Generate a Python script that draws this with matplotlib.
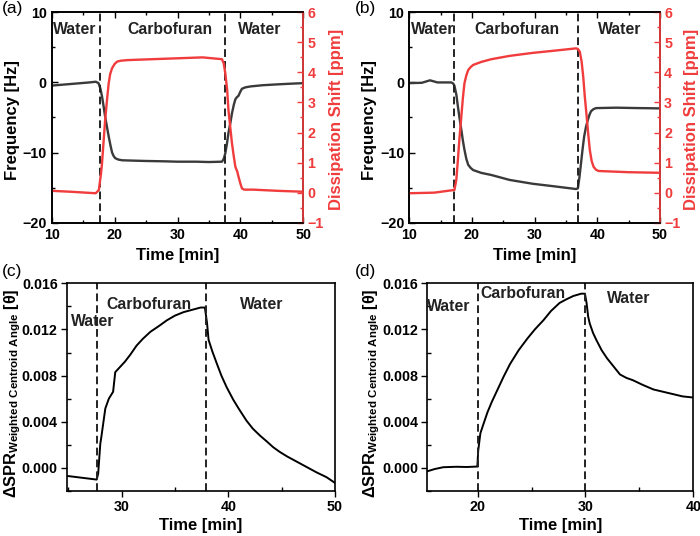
import matplotlib
matplotlib.use("Agg")
import matplotlib.pyplot as plt
from matplotlib.ticker import MultipleLocator

plt.rcParams['font.family'] = ['Liberation Sans', 'DejaVu Sans']
plt.rcParams['mathtext.fontset'] = 'custom'
plt.rcParams['mathtext.rm'] = 'Liberation Sans'
plt.rcParams['mathtext.bf'] = 'Liberation Sans:bold'

GRAY = '#3a3a3a'
RED = '#f03c3c'

# ---------------- data ----------------
a_time_freq = [10, 12, 14, 16, 17.0, 17.45, 17.75, 18.0, 18.25, 18.5, 18.8, 19.06, 19.35, 19.6, 19.85, 20.1,
               20.6, 21.2, 23, 25, 28, 30, 33, 35, 37.07, 37.35, 37.6, 37.85, 38.1, 38.4, 38.66, 38.95,
               39.2, 39.45, 39.7, 40.0, 40.25, 40.8, 41.6, 43.5, 45.8, 48, 50]
a_freq = [-0.45, -0.3, -0.15, 0.0, 0.1, -0.1, -0.9, -2.0, -3.4, -4.9, -6.4, -7.7, -9.0, -10.0, -10.5, -10.8,
          -11.0, -11.1, -11.15, -11.2, -11.25, -11.3, -11.3, -11.35, -11.3, -10.9, -10.1, -8.8, -7.2, -5.8,
          -4.4, -3.2, -2.4, -2.1, -1.9, -1.3, -0.9, -0.7, -0.57, -0.4, -0.28, -0.18, -0.1]
a_time_diss = [10, 13, 17, 17.5, 17.7, 17.85, 18.0, 18.25, 18.5, 18.8, 19.06, 19.3, 19.6, 20.0, 20.4, 21.0,
               22.1, 26, 30, 34, 37.07, 37.35, 37.6, 37.9, 38.1, 38.4, 38.66, 38.95, 39.2, 39.5, 39.7,
               40.0, 40.25, 40.6, 42, 46, 50]
a_diss = [0.06, 0.03, -0.02, 0.09, 0.42, 0.65, 0.98, 1.7, 2.42, 3.1, 3.64, 3.95, 4.14, 4.28, 4.36, 4.39,
          4.41, 4.44, 4.47, 4.5, 4.44, 4.3, 3.97, 3.41, 2.75, 2.15, 1.64, 1.2, 0.86, 0.70, 0.53, 0.3, 0.14,
          0.1, 0.1, 0.06, 0.03]

b_time_freq = [10, 12, 13.3, 14.5, 16.7, 17.0, 17.2, 17.5, 17.75, 18.0, 18.3, 18.55, 18.8, 19.1, 19.4,
               19.8, 20.2, 21.5, 23.1, 26, 29.7, 33, 36.6, 36.9, 37.15, 37.4, 37.65, 37.9, 38.2, 38.5,
               38.75, 39.0, 39.4, 39.8, 43, 46, 50]
b_freq = [-0.1, -0.05, 0.3, 0.0, 0.0, -0.15, -0.47, -1.7, -3.4, -5.0, -6.75, -8.3, -9.6, -10.9, -11.75,
          -12.2, -12.5, -12.9, -13.2, -13.9, -14.45, -14.8, -15.2, -15.1, -13.5, -11.5, -9.5, -7.7, -6.3,
          -5.3, -4.6, -4.1, -3.8, -3.66, -3.6, -3.65, -3.7]
b_time_diss = [10, 14, 17.2, 17.5, 17.75, 18.0, 18.3, 18.55, 18.8, 19.1, 19.4, 19.8, 20.2, 21.5, 23.1, 26,
               29.7, 33, 36.6, 36.9, 37.2, 37.5, 37.75, 38.0, 38.3, 38.55, 38.8, 39.1, 39.4, 39.8, 40.2,
               45, 50]
b_diss = [-0.02, 0.0, 0.09, 0.42, 1.08, 1.8, 2.53, 3.15, 3.64, 3.9, 4.08, 4.18, 4.25, 4.35, 4.44, 4.55,
          4.65, 4.72, 4.8, 4.78, 4.69, 4.35, 3.86, 3.2, 2.53, 1.95, 1.42, 1.05, 0.86, 0.76, 0.72, 0.68, 0.66]

c_time = [24.85, 27.66, 27.8, 28.0, 28.1, 28.47, 28.8, 29.2, 29.4, 29.9, 30.3, 30.8, 31.4, 32.0, 32.7,
          33.5, 34.25, 35.0, 35.8, 36.6, 37.4, 37.8, 38.0, 38.15, 38.5, 38.9, 39.35, 39.84, 40.47, 41.0,
          41.7, 42.3, 42.97, 43.6, 44.2, 44.8, 45.5, 46.1, 46.7, 47.5, 48.3, 49.2, 50.0]
c_spr = [-0.00069, -0.00101, -0.0005, 0.0021, 0.0027, 0.00515, 0.0060, 0.0066, 0.0083, 0.0088, 0.0092,
         0.0098, 0.0106, 0.0112, 0.0118, 0.0123, 0.0128, 0.0132, 0.0135, 0.0137, 0.0139, 0.0139, 0.0126,
         0.0111, 0.0101, 0.0091, 0.0080, 0.0070, 0.0059, 0.0051, 0.0041, 0.0034, 0.0028, 0.0023, 0.0018,
         0.0014, 0.0010, 0.0007, 0.0004, 0.0000, -0.0004, -0.0008, -0.0013]

d_time = [15.3, 16.0, 16.8, 18.0, 19.0, 19.97, 20.05, 20.25, 20.5, 20.9, 21.3, 21.8, 22.4, 23.0, 23.8,
          24.6, 25.3, 26.1, 26.8, 27.6, 28.2, 28.87, 29.6, 29.95, 30.1, 30.25, 30.4, 30.7, 31.0, 31.5,
          32.0, 32.6, 33.2, 33.8, 34.4, 35.3, 36.3, 37.2, 38.1, 39.0, 40.0]
d_spr = [-0.0003, -0.0001, 0.00006, 0.0001, 0.00008, 0.00012, 0.0015, 0.0030, 0.0037, 0.0048, 0.0057,
         0.0067, 0.0079, 0.0090, 0.0102, 0.0112, 0.0120, 0.0128, 0.0136, 0.0143, 0.0146, 0.0149, 0.0151,
         0.0151, 0.0143, 0.0131, 0.0125, 0.0117, 0.0111, 0.0102, 0.0095, 0.0088, 0.0081, 0.0078, 0.0076,
         0.0072, 0.0068, 0.0066, 0.0064, 0.0062, 0.0061]

a_switch = [17.7, 37.6]
b_switch = [17.2, 36.9]
c_switch = [27.7, 37.9]
d_switch = [20.0, 30.0]

phase_labels = ['Water', 'Carbofuran', 'Water']
a_label_x = [13.6, 28.75, 43.1]
b_label_x = [13.7, 27.2, 43.6]
c_label_pos = [(27.3, 0.0127), (32.6, 0.0142), (43.1, 0.0142)]
d_label_pos = [(17.3, 0.0140), (24.2, 0.0151), (34.0, 0.0147)]

# ---------------- figure ----------------
W, H = 700, 536
fig = plt.figure(figsize=(7.0, 5.36), dpi=100)

def rect(l, r, t, b):
    return [l / W, 1 - b / H, (r - l) / W, (b - t) / H]

TICK_FS = 10.3
LABEL_FS = 12
PHASE_FS = 11.3
DASH = (0, (4, 2.1))

def qcm_panel(box, tf, fr, td, di, sw, lx, letter, letter_xy, flab_x, dlab_x):
    ax = fig.add_axes(box)
    ax.plot(tf, fr, color=GRAY, lw=1.7)
    ax.set_xlim(10, 50)
    ax.set_ylim(-20, 10)
    ax.xaxis.set_major_locator(MultipleLocator(10))
    ax.xaxis.set_minor_locator(MultipleLocator(5))
    ax.yaxis.set_major_locator(MultipleLocator(10))
    ax.yaxis.set_minor_locator(MultipleLocator(5))
    ax.tick_params(which='both', direction='in', top=True, right=False, width=1.0)
    ax.tick_params(which='major', length=4, labelsize=TICK_FS, pad=3.5)
    ax.tick_params(which='minor', length=2.5)
    for lab in ax.get_xticklabels() + ax.get_yticklabels():
        lab.set_fontweight('bold')
    for s in ax.spines.values():
        s.set_linewidth(1.2)
    for x in sw:
        ax.axvline(x, color='#222222', lw=1.4, ls=DASH)
    for x, t in zip(lx, phase_labels):
        ax.text(x, 7.6, t, ha='center', va='center', fontsize=PHASE_FS, fontweight='bold', color='#222222')
    ax.set_xlabel('Time [min]', fontsize=LABEL_FS, fontweight='bold')
    ax.xaxis.set_label_coords(0.5, -0.122)
    ax.set_ylabel('Frequency [Hz]', fontsize=LABEL_FS, fontweight='bold')
    ax.yaxis.set_label_coords(flab_x, 0.49)

    ax2 = ax.twinx()
    ax2.plot(td, di, color=RED, lw=1.7)
    ax2.set_ylim(-1, 6)
    ax2.yaxis.set_major_locator(MultipleLocator(1))
    ax2.yaxis.set_minor_locator(MultipleLocator(0.5))
    ax2.tick_params(which='both', direction='in', colors=RED, width=1.0)
    ax2.tick_params(which='major', length=4, labelsize=TICK_FS, pad=3)
    ax2.tick_params(which='minor', length=2.5)
    for lab in ax2.get_yticklabels():
        lab.set_fontweight('bold')
    ax2.spines['right'].set_color(RED)
    for s in ax2.spines.values():
        s.set_linewidth(1.2)
    ax2.set_ylabel('Dissipation Shift [ppm]', fontsize=LABEL_FS, fontweight='bold', color=RED)
    ax2.yaxis.set_label_coords(dlab_x, 0.49)
    fig.text(letter_xy[0] / W, 1 - letter_xy[1] / H, letter, fontsize=12.5, ha='left', va='top')
    return ax


def spr_panel(box, t, v, xlim, sw, lpos, letter, letter_xy, xticks, ylab_x):
    ax = fig.add_axes(box)
    ax.plot(t, v, color='black', lw=1.4)
    ax.set_xlim(*xlim)
    ax.set_ylim(-0.002, 0.016)
    ax.set_xticks(xticks)
    ax.xaxis.set_minor_locator(MultipleLocator(5))
    ax.set_yticks([0.000, 0.004, 0.008, 0.012, 0.016])
    ax.set_yticklabels(['0.000', '0.004', '0.008', '0.012', '0.016'])
    ax.yaxis.set_minor_locator(MultipleLocator(0.002))
    ax.tick_params(which='major', direction='out', length=4, width=1.0, labelsize=TICK_FS, pad=2.5)
    ax.tick_params(which='minor', direction='in', length=3, width=1.0)
    for lab in ax.get_xticklabels() + ax.get_yticklabels():
        lab.set_fontweight('bold')
    for s in ax.spines.values():
        s.set_linewidth(1.2)
    for x in sw:
        ax.axvline(x, color='#222222', lw=1.4, ls=DASH)
    for (x, y), txt in zip(lpos, phase_labels):
        ax.text(x, y, txt, ha='center', va='center', fontsize=PHASE_FS, fontweight='bold', color='#222222')
    ax.set_xlabel('Time [min]', fontsize=LABEL_FS, fontweight='bold')
    ax.xaxis.set_label_coords(0.5, -0.13)
    ax.set_ylabel(r'$\mathbf{ΔSPR}_{\mathbf{Weighted\ Centroid\ Angle}}$ [θ]', fontsize=11.8,
                  fontweight='bold')
    ax.yaxis.set_label_coords(ylab_x, 0.47)
    fig.text(letter_xy[0] / W, 1 - letter_xy[1] / H, letter, fontsize=12.5, ha='left', va='top')
    return ax


qcm_panel(rect(51.7, 303.3, 12.3, 222.7), a_time_freq, a_freq, a_time_diss, a_diss, a_switch, a_label_x,
          '(a)', (2, 1), -0.126, 1.101)
qcm_panel(rect(409.3, 660.0, 12.3, 222.7), b_time_freq, b_freq, b_time_diss, b_diss, b_switch, b_label_x,
          '(b)', (355, 1), -0.128, 1.095)
spr_panel(rect(66.7, 335.0, 283.3, 491.0), c_time, c_spr, (24.85, 50), c_switch, c_label_pos,
          '(c)', (2, 264), [30, 40, 50], -0.163)
spr_panel(rect(427.0, 693.3, 283.3, 491.0), d_time, d_spr, (15.3, 40), d_switch, d_label_pos,
          '(d)', (355, 264), [20, 30, 40], -0.169)

fig.savefig('out.png', dpi=100)
